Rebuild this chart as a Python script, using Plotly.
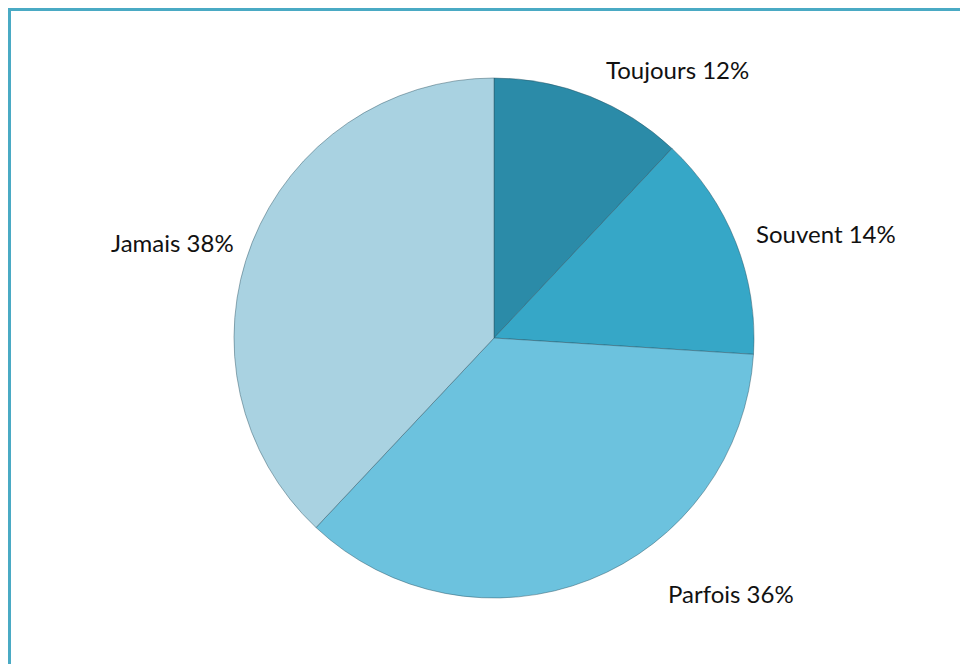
import plotly.graph_objects as go

categories = ["Toujours", "Souvent", "Parfois", "Jamais"]
values = [12, 14, 36, 38]
colors = ["#2b8ba8", "#36a7c7", "#6cc2de", "#a9d2e1"]

# page offset of the plot div (body margin)
OFF = 8
W, H = 968 - OFF, 664 - OFF
cx, cy, r = 494 - OFF, 338 - OFF, 260

fig = go.Figure(go.Pie(
    labels=categories,
    values=values,
    sort=False,
    direction="clockwise",
    rotation=0,
    textinfo="none",
    hoverinfo="label+percent",
    marker=dict(colors=colors, line=dict(color="rgba(40,80,95,0.45)", width=1)),
    domain=dict(x=[(cx - r) / W, (cx + r) / W], y=[(H - cy - r) / H, (H - cy + r) / H]),
    showlegend=False,
))

label_pos = {"Toujours": (677, 69), "Souvent": (826, 233), "Parfois": (731, 593), "Jamais": (172, 243)}
total = sum(values)
annotations = []
for c, v in zip(categories, values):
    x, y = label_pos[c]
    annotations.append(dict(
        x=(x - OFF) / W, y=1 - (y - OFF) / H, xref="paper", yref="paper",
        text=f"{c} {round(100 * v / total)}%", showarrow=False,
        font=dict(family="Lato, Open Sans, sans-serif", size=24, color="#111111"),
        xanchor="center", yanchor="middle",
    ))

fig.update_layout(
    width=W, height=H,
    margin=dict(l=0, r=0, t=0, b=0),
    paper_bgcolor="white", plot_bgcolor="white",
    annotations=annotations,
    shapes=[
        dict(type="line", xref="paper", yref="paper", x0=0, x1=1, y0=1 - 1.5 / H, y1=1 - 1.5 / H,
             line=dict(color="#4aaac4", width=3)),
        dict(type="line", xref="paper", yref="paper", x0=1.5 / W, x1=1.5 / W, y0=0, y1=1,
             line=dict(color="#4aaac4", width=3)),
    ],
)

fig.write_html("out.html")
